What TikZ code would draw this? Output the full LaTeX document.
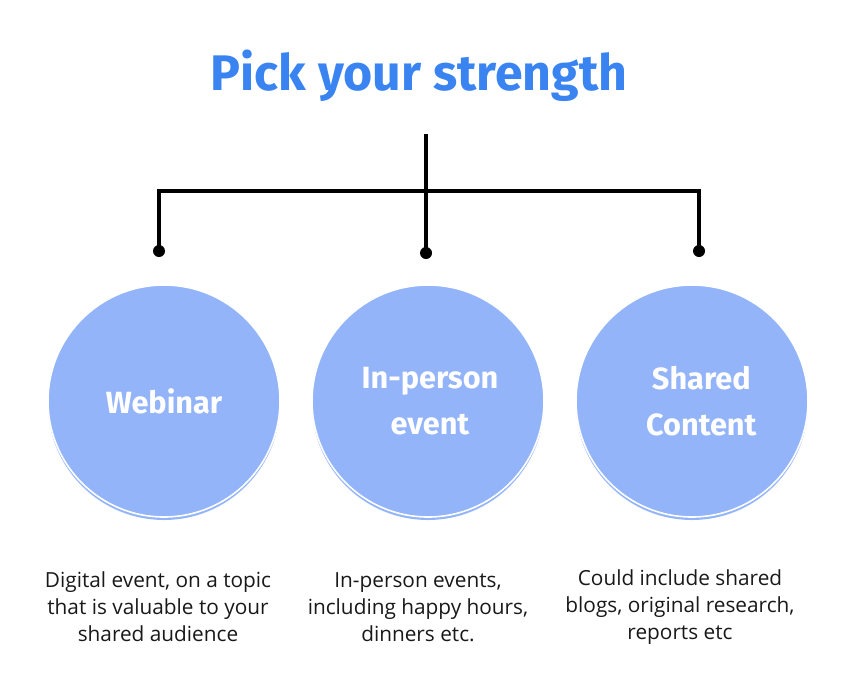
\documentclass[tikz,border=0pt]{standalone}
\usepackage{fontspec}
\setmainfont{Open Sans}
\newfontfamily\headfont{Fira Sans}
\usetikzlibrary{positioning}
\definecolor{titleblue}{HTML}{3A84F2}
\definecolor{bubbleblue}{HTML}{93B4F8}

\tikzset{
  bubble/.style={circle, fill=bubbleblue, draw=white, line width=1.2pt,
    minimum size=174pt, inner sep=0pt, text=white, align=center,
    font=\headfont\bfseries\fontsize{23}{34}\selectfont},
  bubbleshade/.style={circle, fill=bubbleblue, minimum size=174pt, inner sep=0pt},
  caption/.style={align=center, text=black!90, font=\fontsize{15.6}{20.25}\selectfont},
  link/.style={line width=2.6pt, line cap=rect},
  knob/.style={circle, fill=black, inner sep=0pt, minimum size=9pt}
}

\begin{document}
\begin{tikzpicture}[x=0.75pt, y=-0.75pt]
  \useasboundingbox (0,0) rectangle (866,693);

  % title
  \node[anchor=base, text=titleblue, font=\headfont\bfseries\fontsize{37.5}{44}\selectfont]
    (title) at (419,90) {Pick your strength};

  % tree of connectors
  \coordinate (top) at (426,136);
  \coordinate (hub) at (426,191);
  \node[knob] (dotL) at (159,251) {};
  \node[knob] (dotM) at (426,253) {};
  \node[knob] (dotR) at (699,251) {};
  \draw[link] (top) -- (dotM.center);
  \draw[link, line cap=butt] (dotL.center) |- (hub) -| (dotR.center);

  % circles (shade first, then the bubble over it)
  \node[bubbleshade] at (164,404) {};
  \node[bubbleshade] at (428,404) {};
  \node[bubbleshade] at (692,404) {};
  \node[bubble] (webinar) at (164,401) {Webinar};
  \node[bubble] (inperson) at (428,401) {\hspace*{3pt}In-person\\\hspace*{3pt}event};
  \node[bubble] (shared) at (692,401) {\hspace*{14pt}Shared\\\hspace*{14pt}Content};

  % captions
  \node[caption] (capL) at (158,607) {Digital event, on a topic\\that is valuable to your\\shared audience};
  \node[caption] (capM) at (418,607) {In-person events,\\including happy hours,\\dinners etc.};
  \node[caption] (capR) at (680,607) {Could include shared\\blogs, original research,\\reports etc};
\end{tikzpicture}
\end{document}
